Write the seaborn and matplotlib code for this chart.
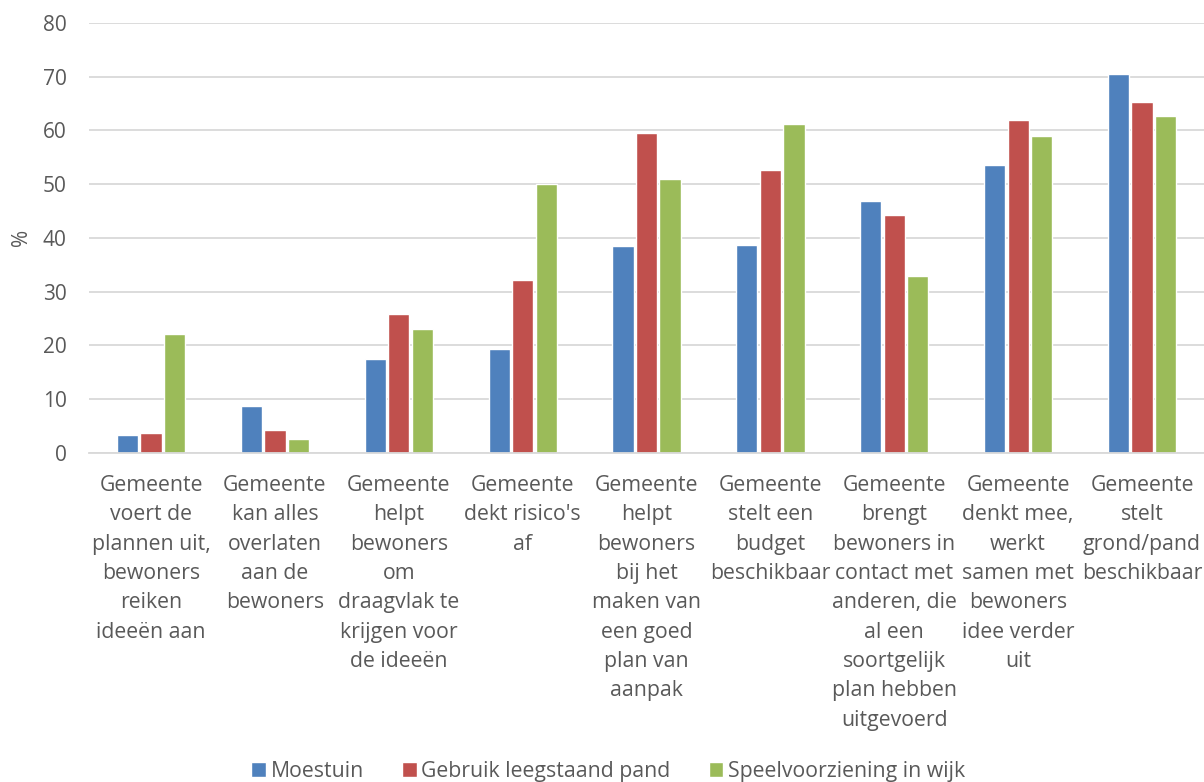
import matplotlib
matplotlib.use("Agg")
import matplotlib.pyplot as plt
import pandas as pd
import seaborn as sns

# categories (x-axis labels, wrapped as in the original)
categories = [
    "Gemeente\nvoert de\nplannen uit,\nbewoners\nreiken\nideeën aan",
    "Gemeente\nkan alles\noverlaten\naan de\nbewoners",
    "Gemeente\nhelpt\nbewoners\nom\ndraagvlak te\nkrijgen voor\nde ideeën",
    "Gemeente\ndekt risico's\naf",
    "Gemeente\nhelpt\nbewoners\nbij het\nmaken van\neen goed\nplan van\naanpak",
    "Gemeente\nstelt een\nbudget\nbeschikbaar",
    "Gemeente\nbrengt\nbewoners in\ncontact met\nanderen, die\nal een\nsoortgelijk\nplan hebben\nuitgevoerd",
    "Gemeente\ndenkt mee,\nwerkt\nsamen met\nbewoners\nidee verder\nuit",
    "Gemeente\nstelt\ngrond/pand\nbeschikbaar",
]

series_names = ["Moestuin", "Gebruik leegstaand pand", "Speelvoorziening in wijk"]

moestuin = [3.3, 8.7, 17.4, 19.4, 38.5, 38.6, 46.8, 53.5, 70.4]
leegstaand_pand = [3.6, 4.2, 25.9, 32.1, 59.5, 52.7, 44.3, 61.9, 65.2]
speelvoorziening = [22.1, 2.6, 23.0, 50.0, 51.0, 61.2, 32.9, 58.9, 62.6]

colors = ["#4F81BD", "#C0504D", "#9BBB59"]

yticks = [0, 10, 20, 30, 40, 50, 60, 70, 80]

# long format table for seaborn
rows = []
for name, vals in zip(series_names, [moestuin, leegstaand_pand, speelvoorziening]):
    for cat, v in zip(categories, vals):
        rows.append({"categorie": cat, "reeks": name, "waarde": v})
df = pd.DataFrame(rows)

sns.set_style("white")
plt.rcParams["font.family"] = ["Open Sans", "DejaVu Sans"]

fig = plt.figure(figsize=(12.04, 7.82), dpi=100)
ax = fig.add_axes([0.074, 0.421, 0.926, 0.5497])

sns.barplot(
    data=df,
    x="categorie",
    y="waarde",
    hue="reeks",
    order=categories,
    hue_order=series_names,
    palette=colors,
    width=0.57,
    gap=0.1,
    errorbar=None,
    saturation=1,
    ax=ax,
)

ax.set_ylim(0, 80)
ax.set_xlim(-0.5, len(categories) - 0.5)
ax.set_yticks(yticks)
ax.set_yticklabels([str(t) for t in yticks])
ax.yaxis.grid(True, color="#D9D9D9", linewidth=1.3)
ax.set_axisbelow(True)
for side in ["top", "right", "left"]:
    ax.spines[side].set_visible(False)
ax.spines["bottom"].set_color("#D9D9D9")
ax.spines["bottom"].set_linewidth(1.3)
ax.tick_params(axis="x", length=0, labelsize=15.3, labelcolor="#595959", pad=16)
ax.tick_params(axis="y", length=0, labelsize=15, labelcolor="#595959", pad=16)
for lbl in ax.get_xticklabels():
    lbl.set_linespacing(1.52)
    lbl.set_va("top")

ax.set_xlabel("")
ax.set_ylabel("%", fontsize=15, color="#595959", labelpad=8)

ax.get_legend().remove()
handles, labels = ax.get_legend_handles_labels()
fig.legend(
    handles,
    labels,
    loc="lower center",
    bbox_to_anchor=(0.505, -0.024),
    ncol=3,
    frameon=False,
    fontsize=15.3,
    labelcolor="#595959",
    handlelength=0.7,
    handleheight=0.7,
    handletextpad=0.2,
    columnspacing=1.8,
)

fig.savefig("out.png", dpi=100)
